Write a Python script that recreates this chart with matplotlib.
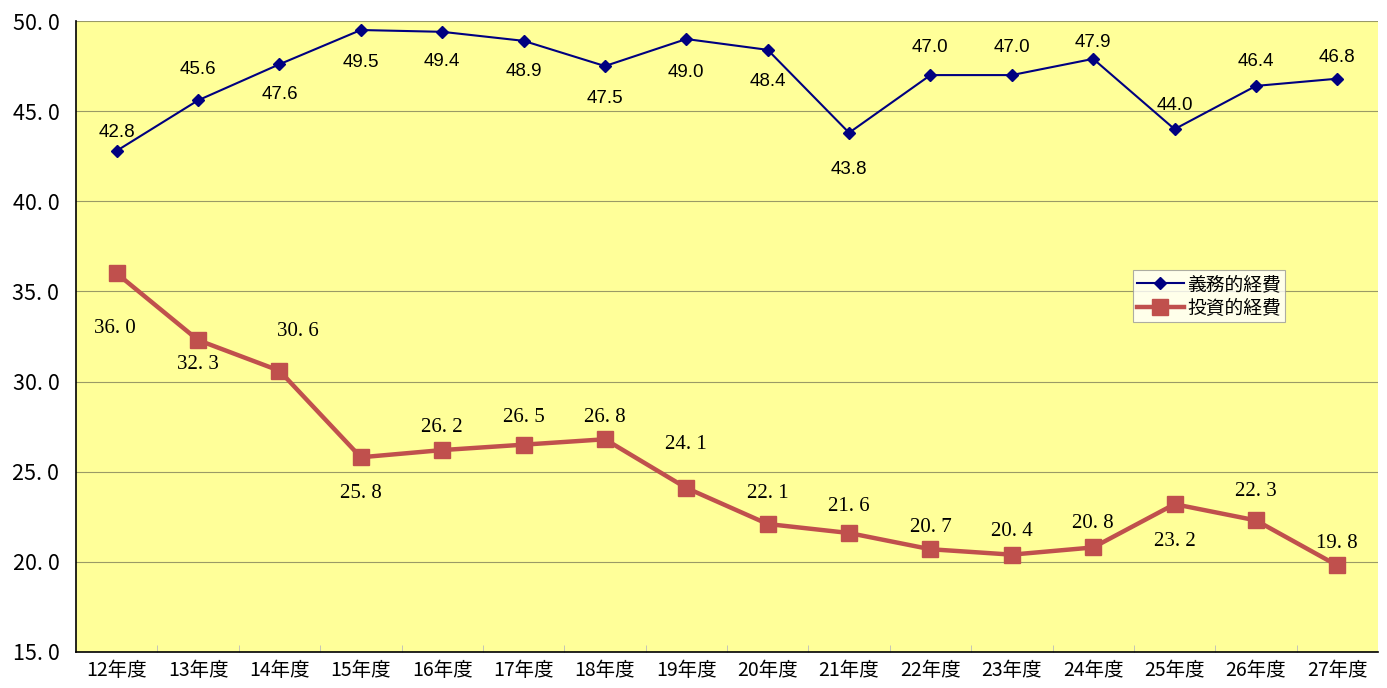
import matplotlib
matplotlib.use("Agg")
import matplotlib.pyplot as plt
from matplotlib.ticker import FixedLocator

plt.rcParams['font.family'] = ['Noto Sans CJK JP', 'DejaVu Sans']

categories = ["12年度", "13年度", "14年度", "15年度", "16年度", "17年度", "18年度", "19年度",
              "20年度", "21年度", "22年度", "23年度", "24年度", "25年度", "26年度", "27年度"]
gimu = [42.8, 45.6, 47.6, 49.5, 49.4, 48.9, 47.5, 49.0, 48.4, 43.8, 47.0, 47.0, 47.9, 44.0, 46.4, 46.8]
toushi = [36.0, 32.3, 30.6, 25.8, 26.2, 26.5, 26.8, 24.1, 22.1, 21.6, 20.7, 20.4, 20.8, 23.2, 22.3, 19.8]
series_names = ["義務的経費", "投資的経費"]
yticks = [15.0, 20.0, 25.0, 30.0, 35.0, 40.0, 45.0, 50.0]

# label offsets in pixels (dx, dy), dy positive = up
gimu_off = [(0, 18), (0, 31), (0, -30), (0, -32), (0, -30), (0, -31), (0, -32), (0, -33),
            (0, -32), (0, -37), (0, 28), (0, 28), (0, 16), (0, 24), (0, 24), (0, 21)]
toushi_off = [(-2, -55), (0, -24), (18, 39), (0, -36), (0, 23), (0, 27), (0, 22), (0, 43),
              (0, 30), (0, 27), (0, 22), (0, 23), (0, 24), (0, -37), (0, 29), (0, 22)]

fig = plt.figure(figsize=(13.87, 6.88), dpi=100)
ax = fig.add_axes([76/1387, 1-652/688, (1378-76)/1387, (652-21)/688])
ax.set_facecolor("#FFFF99")

x = list(range(len(categories)))
ax.plot(x, gimu, color="#000080", lw=1.5, marker="D", ms=6.5, label=series_names[0], zorder=4)
ax.plot(x, toushi, color="#C0504D", lw=3.2, marker="s", ms=11, label=series_names[1], zorder=3)

for i, v in enumerate(gimu):
    dx, dy = gimu_off[i]
    ax.annotate(f"{v:.1f}", (i, v), xytext=(dx*0.72, dy*0.72), textcoords="offset points",
                ha="center", va="center", fontsize=13.5, family=["Liberation Sans"], color="black",
                zorder=5)
for i, v in enumerate(toushi):
    dx, dy = toushi_off[i]
    s = f"{v:.1f}".replace(".", ". ")
    ax.annotate(s, (i, v), xytext=(dx*0.72, dy*0.72), textcoords="offset points",
                ha="center", va="center", fontsize=15, family=["Liberation Serif"],
                color="black", zorder=5)

ax.set_xlim(-0.5, len(categories)-0.5)
ax.set_ylim(15, 50)
ax.set_yticks(yticks)
ax.set_yticklabels([f"{v:.1f}".replace(".", ". ") for v in yticks], fontsize=15.5)
ax.tick_params(axis="y", length=0, pad=12)
ax.set_xticks(x)
ax.set_xticklabels(categories, fontsize=14)
ax.tick_params(axis="x", length=0, pad=6)
ax.xaxis.set_minor_locator(FixedLocator([i + 0.5 for i in range(len(categories)-1)]))
ax.tick_params(axis="x", which="minor", direction="in", length=5, color="#BBBBBB")

ax.grid(axis="y", color="#9A9A66", lw=0.8)
ax.set_axisbelow(True)
for s in ["top", "right"]:
    ax.spines[s].set_visible(False)
ax.spines["left"].set_color("black")
ax.spines["bottom"].set_color("black")
ax.spines["left"].set_linewidth(1.2)
ax.spines["bottom"].set_linewidth(1.2)

leg = ax.legend(loc="upper left", bbox_to_anchor=((1133-76)/1302, 1-(270-21)/631),
                fontsize=13.5, frameon=True, fancybox=False, edgecolor="#999999",
                borderpad=0.2, handlelength=2.5, handletextpad=0.2, labelspacing=0.15,
                borderaxespad=0)
leg.get_frame().set_linewidth(0.8)

fig.savefig("out.png", dpi=100)
